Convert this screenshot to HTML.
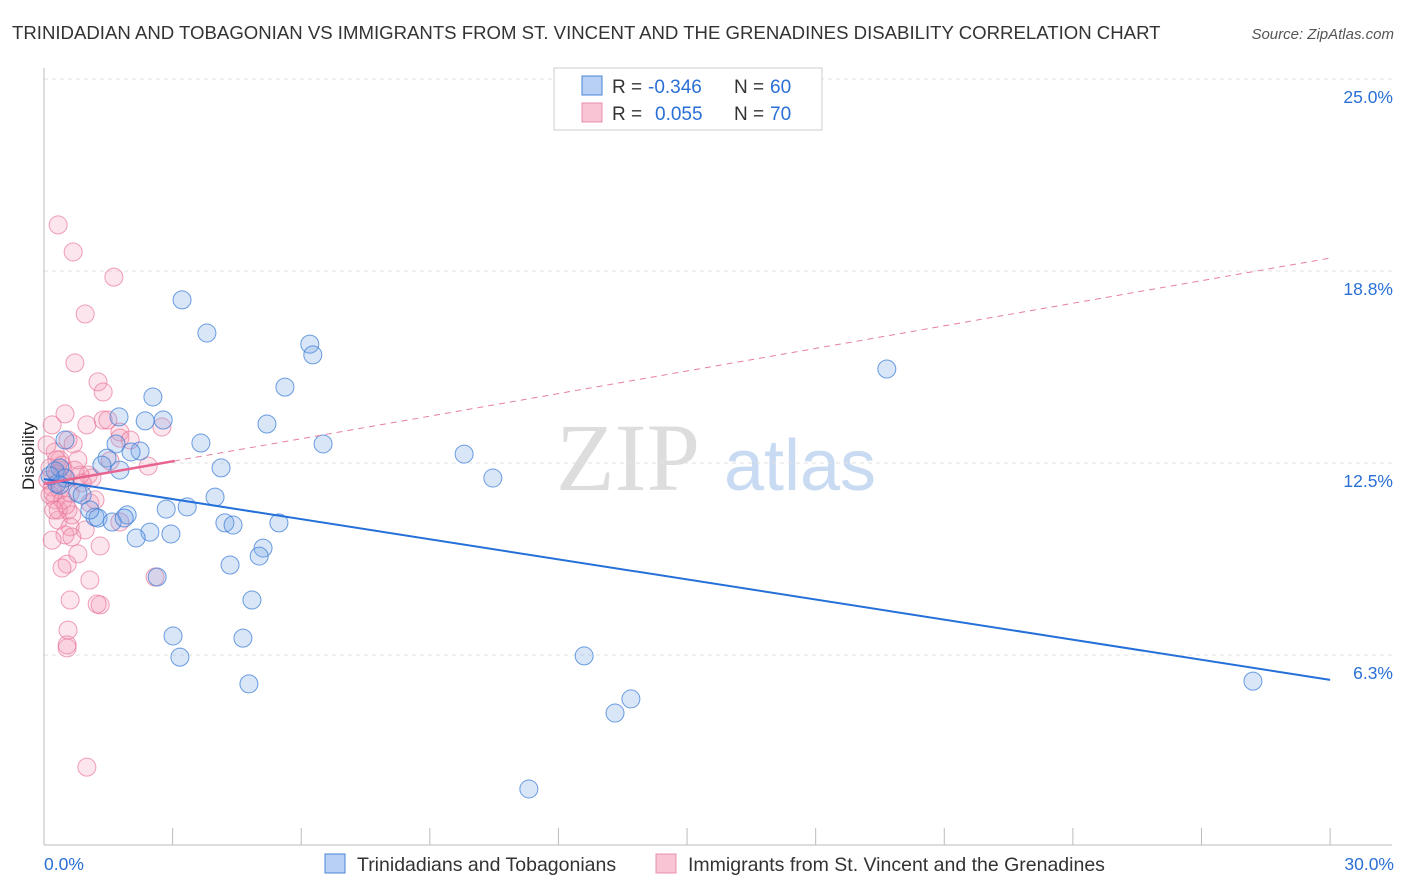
<!DOCTYPE html>
<html><head><meta charset="utf-8"><style>
body{margin:0;background:#fff;font-family:"Liberation Sans",sans-serif;}
svg{display:block}
</style></head><body>
<svg id="c" width="1406" height="892">
<text x="12" y="39" font-size="18.6" fill="#333">TRINIDADIAN AND TOBAGONIAN VS IMMIGRANTS FROM ST. VINCENT AND THE GRENADINES DISABILITY CORRELATION CHART</text>
<text x="1394" y="39" font-size="15" fill="#555" font-style="italic" text-anchor="end">Source: ZipAtlas.com</text>
<text x="628" y="490" font-size="96" fill="#ddd" font-family="Liberation Serif,serif" text-anchor="middle">ZIP</text>
<text x="800" y="490" font-size="72" fill="#c8dbf2" text-anchor="middle">atlas</text>
<text transform="translate(34,456) rotate(-90)" font-size="17" fill="#222" text-anchor="middle">Disability</text>
<g id="grid"></g><g id="marks"></g>
<g>
<rect x="554" y="68" width="268" height="62" fill="#fff" stroke="#ccc"/>
<rect x="582" y="76" width="20" height="19" fill="#b7d0f3" stroke="#4a86d8"/>
<rect x="582" y="103" width="20" height="19" fill="#f9c5d5" stroke="#e890aa"/>
<text x="612" y="93" font-size="19" fill="#333">R =</text>
<text x="648" y="93" font-size="19" fill="#2a6fd6">-0.346</text>
<text x="734" y="93" font-size="19" fill="#333">N =</text>
<text x="770" y="93" font-size="19" fill="#2a6fd6">60</text>
<text x="612" y="120" font-size="19" fill="#333">R =</text>
<text x="655" y="120" font-size="19" fill="#2a6fd6">0.055</text>
<text x="734" y="120" font-size="19" fill="#333">N =</text>
<text x="770" y="120" font-size="19" fill="#2a6fd6">70</text>
</g>
<g>
<rect x="325" y="854" width="20" height="19" fill="#b7d0f3" stroke="#4a86d8"/>
<text x="357" y="871" font-size="19.5" fill="#333">Trinidadians and Tobagonians</text>
<rect x="656" y="854" width="20" height="19" fill="#f9c5d5" stroke="#e890aa"/>
<text x="688" y="871" font-size="19.5" fill="#333">Immigrants from St. Vincent and the Grenadines</text>
</g>
</svg>
<script>
const xTicks=[0,3,6,9,12,15,18,21,24,27,30];
const yTicks=[6.25,12.5,18.75,25];
const yTickLabels=["6.3%","12.5%","18.8%","25.0%"];
const blueX=[3.22,3.80,6.20,6.27,5.62,2.54,19.66,1.75,2.36,2.78,5.20,3.66,6.51,0.49,1.68,2.24,1.47,2.03,9.80,10.47,4.13,1.35,0.37,0.30,0.79,0.89,3.99,3.34,2.85,1.19,1.26,1.94,1.59,1.87,4.22,4.41,5.48,2.47,2.96,2.15,5.11,5.02,4.34,2.64,4.85,3.01,4.64,3.17,12.60,4.78,13.69,13.32,28.20,11.31,0.26,0.49,0.37,0.14,1.07,1.77];
const blueY=[17.81,16.73,16.37,16.02,14.97,14.65,15.56,14.00,13.87,13.90,13.77,13.15,13.12,13.25,13.12,12.89,12.66,12.86,12.79,12.01,12.34,12.43,12.34,11.82,11.52,11.46,11.39,11.07,11.00,10.74,10.71,10.81,10.58,10.71,10.55,10.48,10.55,10.25,10.19,10.06,9.73,9.47,9.18,8.79,8.04,6.87,6.80,6.18,6.22,5.31,4.82,4.36,5.40,1.89,12.24,12.01,11.78,12.08,10.97,12.27];
const pinkX=[0.33,0.68,1.63,0.96,0.72,1.26,1.38,0.49,0.19,1.38,1.49,1.77,1.00,2.75,0.56,0.68,1.54,2.43,0.26,0.37,0.14,0.44,1.03,0.51,0.19,0.37,0.61,1.07,0.26,0.56,0.65,0.33,0.61,0.96,1.77,0.49,0.19,0.65,1.31,0.79,0.54,0.42,1.07,2.59,0.61,1.31,1.24,0.56,0.54,0.54,1.00,0.30,0.42,0.09,0.21,0.33,1.12,0.84,0.44,0.14,1.77,2.01,0.72,0.30,0.51,0.89,0.23,0.07,0.79,1.19];
const pinkY=[20.25,19.37,18.55,17.35,15.76,15.14,14.81,14.10,13.74,13.90,13.90,13.51,13.74,13.67,13.25,13.12,12.57,12.40,12.86,12.60,12.34,12.27,12.11,12.01,11.72,11.62,11.52,11.20,11.30,10.97,10.81,10.64,10.42,10.32,10.58,10.16,9.99,10.09,9.80,9.54,9.21,9.08,8.69,8.79,8.04,7.88,7.91,7.06,6.58,6.48,2.60,12.60,12.43,11.95,11.52,10.97,12.01,12.11,11.30,11.46,13.31,13.25,12.27,12.14,11.13,11.85,10.97,13.09,12.60,11.30];
const blueTrend=[11.98,5.44];
const pinkTrend=[11.82,19.17];
const pinkSolidEnd=3.05;

const NS="http://www.w3.org/2000/svg";
const sx=v=>44+v*42.87, sy=v=>847-v*30.72;
const grid=document.getElementById('grid'), marks=document.getElementById('marks');
function mk(tag,attrs,parent){const e=document.createElementNS(NS,tag);for(const k in attrs)e.setAttribute(k,attrs[k]);parent.appendChild(e);return e;}
yTicks.forEach((t,i)=>{
  const l=mk('line',{x1:44,x2:1392,y1:sy(t),y2:sy(t),stroke:'#e2e2e2','stroke-dasharray':'4,4'},grid);
  
  
  const tx=mk('text',{x:1393,y:sy(t)+24,'font-size':17.5,fill:'#2a6fd6','text-anchor':'end'},grid);
  tx.textContent=yTickLabels[i];
  
  
});
const ax=mk('line',{x1:44,x2:44,y1:68,y2:845,stroke:'#bbb'},grid);


const bx=mk('line',{x1:44,x2:1392,y1:845,y2:845,stroke:'#bbb'},grid);


xTicks.forEach(t=>{
  const l=mk('line',{x1:sx(t),x2:sx(t),y1:828,y2:845,stroke:'#bbb'},grid);
  
  
});
[[0,'0.0%','start',44],[30,'30.0%','end',1394]].forEach(([v,s,a,x])=>{
  const tx=mk('text',{x:x,y:870,'font-size':17.5,fill:'#2a6fd6','text-anchor':a},grid);
  tx.textContent=s;
  
  
});
pinkX.forEach((x,i)=>{
  const c=mk('circle',{cx:sx(x),cy:sy(pinkY[i]),r:9,fill:'rgba(244,150,180,0.25)',stroke:'rgba(232,120,155,0.7)','stroke-width':1},marks);
  
  
});
blueX.forEach((x,i)=>{
  const c=mk('circle',{cx:sx(x),cy:sy(blueY[i]),r:9,fill:'rgba(120,165,230,0.28)',stroke:'rgba(60,125,215,0.75)','stroke-width':1},marks);
  
  
});
const bt=mk('line',{x1:sx(0),y1:sy(blueTrend[0]),x2:sx(30),y2:sy(blueTrend[1]),stroke:'#2470d8','stroke-width':2},marks);


const pd=mk('line',{x1:sx(0),y1:sy(pinkTrend[0]),x2:sx(30),y2:sy(pinkTrend[1]),stroke:'#e87fa0','stroke-width':1,'stroke-dasharray':'6,5'},marks);


const py=pinkTrend[0]+(pinkTrend[1]-pinkTrend[0])*pinkSolidEnd/30;
const ps=mk('line',{x1:sx(0),y1:sy(pinkTrend[0]),x2:sx(pinkSolidEnd),y2:sy(py),stroke:'#e8638f','stroke-width':2.5},marks);


</script>
</body></html>
